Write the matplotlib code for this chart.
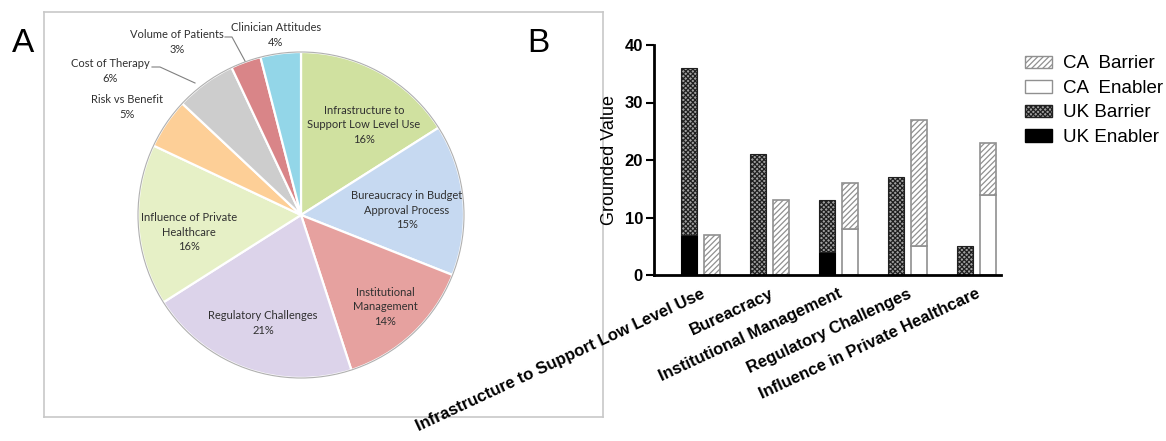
import numpy as np
from matplotlib import pyplot as plt
from matplotlib.patches import Circle, Patch

plt.rcParams['hatch.linewidth'] = 0.9

# panel A: share of themes
pie_labels = ['Infrastructure to\nSupport Low Level Use', 'Bureaucracy in Budget\nApproval Process',
              'Institutional\nManagement', 'Regulatory Challenges', 'Influence of Private\nHealthcare',
              'Risk vs Benefit', 'Cost of Therapy', 'Volume of Patients', 'Clinician Attitudes']
pie_pct = [16, 15, 14, 21, 16, 5, 6, 3, 4]
pie_colors = ['#d0e1a0', '#c6d9f1', '#e6a19f', '#dcd3ea', '#e6f0c6',
              '#fdcf97', '#cdcdcd', '#d98588', '#93d6e8']

# panel B: grounded values per theme
themes = ['Infrastructure to Support Low Level Use', 'Bureacracy', 'Institutional Management',
          'Regulatory Challenges', 'Influence in Private Healthcare']
uk_enabler = [7, 0, 4, 0, 0]
uk_barrier = [29, 21, 9, 17, 5]
ca_enabler = [0, 0, 8, 5, 14]
ca_barrier = [7, 13, 8, 22, 9]

W, H = 1166, 441
PIE_C = (301, H - 215)
PIE_R = 163
# where each label sits, in panel pixels (x, y from top)
pie_text_pos = [(364, 125), (407, 210), (385, 307), (263, 323), (189, 232),
                (127, 107), (110, 71), (177, 42), (276, 35)]

fig = plt.figure(figsize=(W / 100, H / 100), dpi=100)

# ---- panel A ----
x0, x1, y0, y1 = 44, 603, 12, 417
axa = fig.add_axes([x0 / W, 1 - y1 / H, (x1 - x0) / W, (y1 - y0) / H])

wedges, _ = axa.pie(pie_pct, colors=pie_colors, startangle=90, counterclock=False,
                    center=PIE_C, radius=PIE_R, frame=True,
                    wedgeprops=dict(edgecolor='white', linewidth=1.6))
axa.add_patch(Circle(PIE_C, PIE_R, fill=False, edgecolor='#b0b0b0', linewidth=0.8))
axa.set_xlim(x0, x1)
axa.set_ylim(H - y1, H - y0)
axa.set_xticks([])
axa.set_yticks([])
for s in axa.spines.values():
    s.set_color('#c8c8c8')
    s.set_linewidth(1.2)

for lab, pct, (tx, ty) in zip(pie_labels, pie_pct, pie_text_pos):
    axa.text(tx, H - ty, f'{lab}\n{pct}%', ha='center', va='center', fontsize=8,
             family='Lato', color='#303030', linespacing=1.35)

# leader lines for the small outside slices
axa.plot([152, 160, 195], [H - 67, H - 67, H - 83], color='#808080', lw=0.8)
axa.plot([225, 232, 245], [H - 37, H - 37, H - 61], color='#808080', lw=0.8)

fig.text(12 / W, 1 - 43 / H, 'A', fontsize=24, va='center', ha='left', family='Liberation Sans')
fig.text(527 / W, 1 - 43 / H, 'B', fontsize=24, va='center', ha='left', family='Liberation Sans')

# ---- panel B ----
axb = fig.add_axes([654 / W, 166 / H, 347 / W, 230 / H])
x = np.arange(len(themes))
bw = 0.232
off = 0.167
uk_x = x - off
ca_x = x + off

axb.bar(uk_x, uk_enabler, bw, color='black', edgecolor='black', linewidth=0.8)
axb.bar(uk_x, uk_barrier, bw, bottom=uk_enabler, color='#a0a0a0', edgecolor='#202020',
        hatch='xxxxxxx', linewidth=0.8)
axb.bar(ca_x, ca_enabler, bw, color='white', edgecolor='#909090', linewidth=1.2)
axb.bar(ca_x, ca_barrier, bw, bottom=ca_enabler, color='white', edgecolor='#909090',
        hatch='//////', linewidth=1.2)

axb.set_xlim(-0.674, 4.355)
axb.set_ylim(0, 40)
axb.set_yticks([0, 10, 20, 30, 40])
axb.set_xticks(x)
axb.set_xticklabels(themes, rotation=25, ha='right', va='top', rotation_mode='anchor',
                    fontsize=12, fontweight='bold', family='Liberation Sans')
axb.tick_params(axis='x', length=0, pad=8)
axb.tick_params(axis='y', length=6, width=1.5, labelsize=12, pad=2)
for t in axb.get_yticklabels():
    t.set_fontweight('bold')
    t.set_family('Liberation Sans')
axb.spines['top'].set_visible(False)
axb.spines['right'].set_visible(False)
axb.spines['left'].set_linewidth(2)
axb.spines['bottom'].set_linewidth(2)
axb.set_ylabel('Grounded Value', fontsize=13, family='Liberation Sans', labelpad=5)

handles = [Patch(facecolor='white', edgecolor='#909090', hatch='//////'),
           Patch(facecolor='white', edgecolor='#909090'),
           Patch(facecolor='#a0a0a0', edgecolor='#202020', hatch='xxxxxxx'),
           Patch(facecolor='black', edgecolor='black')]
fig.legend(handles, ['CA  Barrier', 'CA  Enabler', 'UK Barrier', 'UK Enabler'],
           loc='upper left', bbox_to_anchor=(1016 / W, 1 - 46 / H), frameon=False,
           prop=dict(family='Liberation Sans', size=13.5), handlelength=1.4,
           handleheight=0.65, labelspacing=0.4, handletextpad=0.6, borderpad=0)

fig.savefig('out.png', dpi=100)
